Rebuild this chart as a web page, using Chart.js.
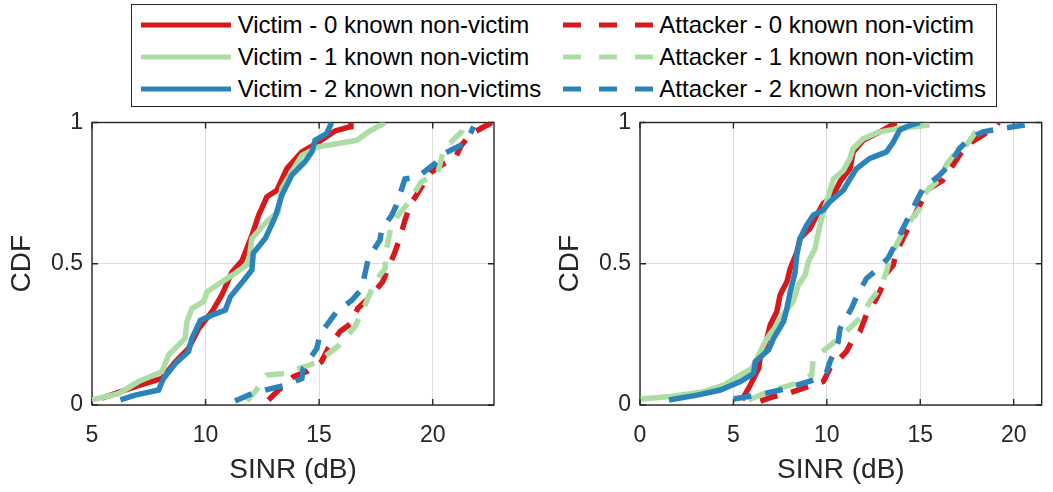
<!DOCTYPE html>
<html>
<head>
<meta charset="utf-8">
<title>SINR CDF</title>
<script src="https://cdn.jsdelivr.net/npm/chart.js"></script>
<style>
  body { margin: 0; width: 1053px; height: 492px; background: #fff; position: relative; overflow: hidden;
         font-family: "Liberation Sans", Arial, sans-serif; }
  canvas { position: absolute; top: 110px; }
  #legend { position: absolute; left: 131px; top: 4px; width: 864px; height: 101px; border: 1.4px solid #262626; }
  .key { position: absolute; font-size: 24px; line-height: 28px; color: #000; white-space: nowrap; }
  .swatch { position: absolute; }
</style>
</head>
<body>
<div id="legend"></div>
<canvas id="left" width="510" height="382" style="left:0px"></canvas>
<canvas id="right" width="505" height="382" style="left:548px"></canvas>
<script>
// series names and colours
const labels = [
  'Victim - 0 known non-victim', 'Victim - 1 known non-victim', 'Victim - 2 known non-victims',
  'Attacker - 0 known non-victim', 'Attacker - 1 known non-victim', 'Attacker - 2 known non-victims'
];
const colors = ['#d7191c', '#abdda4', '#2b83ba', '#d7191c', '#abdda4', '#2b83ba'];
const dashed = [false, false, false, true, true, true];

const yTicks = [0, 0.5, 1];
const leftXTicks = [5, 10, 15, 20];
const rightXTicks = [0, 5, 10, 15, 20];

// left panel: [SINR dB, CDF]
const leftVictim0 = [[5.44,0.024],[6.9,0.065],[8.08,0.094],[8.67,0.153],[9.25,0.2],[9.69,0.27],[10.28,0.33],[10.72,0.39],[11.16,0.47],[11.6,0.51],[12.04,0.6],[12.33,0.67],[12.7,0.737],[13.14,0.76],[13.58,0.837],[14.24,0.896],[14.97,0.93],[15.7,0.97],[16.36,0.985],[16.4,1.0]];
const leftVictim1 = [[5.0,0.018],[6.17,0.04],[7.05,0.083],[8.08,0.118],[8.37,0.177],[9.1,0.236],[9.18,0.295],[9.4,0.342],[9.91,0.366],[10.06,0.4],[10.72,0.436],[11.3,0.466],[11.89,0.5],[12.04,0.59],[12.7,0.65],[13.2,0.684],[13.36,0.767],[13.8,0.825],[14.24,0.884],[14.97,0.914],[16.66,0.937],[17.17,0.967],[17.9,1.0]];
const leftVictim2 = [[6.25,0.018],[6.9,0.035],[7.93,0.053],[8.15,0.094],[8.67,0.147],[9.25,0.189],[9.4,0.236],[9.77,0.3],[10.28,0.318],[10.87,0.336],[11.09,0.383],[11.67,0.44],[12.04,0.478],[12.1,0.537],[12.63,0.59],[13.07,0.666],[13.36,0.743],[13.8,0.814],[14.38,0.861],[14.68,0.896],[14.82,0.937],[15.33,0.961],[15.55,1.0]];
const leftAttacker0 = [[12.77,0.018],[13.14,0.047],[13.87,0.1],[14.46,0.118],[15.1,0.153],[15.4,0.2],[15.92,0.26],[16.43,0.29],[16.7,0.342],[17.24,0.383],[17.8,0.436],[17.97,0.47],[18.33,0.54],[18.55,0.59],[18.78,0.654],[19.0,0.707],[19.51,0.772],[19.95,0.825],[20.4,0.85],[20.98,0.873],[21.27,0.92],[21.7,0.96],[22.6,1.0]];
const leftAttacker1 = [[11.82,0.014],[12.18,0.047],[12.7,0.106],[13.5,0.112],[14.38,0.136],[14.97,0.153],[15.85,0.21],[16.58,0.277],[17.02,0.354],[17.46,0.436],[17.9,0.483],[17.97,0.554],[18.2,0.643],[18.9,0.713],[19.5,0.79],[20.22,0.82],[20.5,0.908],[20.8,0.93],[21.27,0.967],[21.4,1.0]];
const leftAttacker2 = [[11.3,0.014],[12.04,0.04],[12.92,0.059],[13.5,0.07],[14.24,0.094],[14.3,0.13],[14.9,0.2],[15.04,0.25],[15.77,0.33],[16.43,0.37],[16.87,0.41],[17.17,0.52],[17.68,0.584],[17.75,0.62],[18.2,0.672],[18.4,0.707],[18.78,0.8],[19.36,0.808],[20.1,0.855],[20.5,0.89],[21.4,0.926],[21.7,0.967],[21.8,0.985]];

// right panel: [SINR dB, CDF]
const rightVictim0 = [[5.46,0.018],[5.9,0.07],[6.35,0.13],[6.43,0.165],[6.7,0.21],[6.97,0.283],[7.32,0.33],[7.5,0.39],[7.86,0.436],[8.04,0.483],[8.39,0.54],[8.57,0.59],[9.1,0.625],[9.46,0.672],[9.81,0.713],[10.35,0.743],[10.7,0.79],[11.24,0.837],[11.41,0.896],[11.95,0.937],[12.84,0.967],[13.72,1.0]];
const rightVictim1 = [[0.04,0.021],[1.64,0.03],[3.41,0.047],[4.48,0.07],[5.19,0.1],[5.99,0.13],[6.35,0.177],[6.79,0.236],[7.32,0.283],[7.77,0.33],[8.2,0.366],[8.48,0.425],[8.84,0.46],[9.01,0.507],[9.37,0.554],[9.55,0.613],[9.81,0.684],[9.99,0.72],[10.35,0.8],[10.88,0.83],[11.24,0.873],[11.41,0.908],[11.95,0.943],[12.84,0.967],[13.9,0.98],[15.32,0.99],[15.35,1.0]];
const rightVictim2 = [[1.55,0.018],[3.06,0.035],[4.3,0.053],[5.37,0.083],[6.08,0.112],[6.17,0.153],[6.88,0.195],[7.15,0.236],[7.68,0.295],[7.86,0.342],[8.04,0.4],[8.3,0.47],[8.39,0.53],[8.57,0.59],[8.92,0.637],[9.28,0.672],[9.81,0.69],[10.17,0.72],[10.88,0.76],[11.24,0.8],[11.59,0.837],[12.3,0.873],[13.19,0.896],[13.55,0.93],[13.9,0.973],[14.26,0.985],[14.97,1.0]];
const rightAttacker0 = [[6.44,0.014],[7.15,0.03],[7.86,0.04],[8.75,0.06],[9.81,0.083],[10.17,0.13],[10.52,0.153],[11.06,0.19],[11.32,0.224],[11.77,0.26],[12.12,0.32],[12.66,0.377],[13.01,0.425],[13.19,0.466],[13.55,0.495],[13.72,0.54],[14.08,0.59],[14.44,0.637],[14.79,0.684],[15.15,0.731],[15.5,0.767],[16.21,0.796],[16.57,0.831],[17.1,0.884],[17.46,0.92],[18.35,0.955],[19.06,0.99],[19.2,1.0]];
const rightAttacker1 = [[5.81,0.018],[6.61,0.04],[7.5,0.06],[8.39,0.077],[9.19,0.106],[9.28,0.165],[10.17,0.21],[10.88,0.25],[11.77,0.307],[12.3,0.366],[12.84,0.413],[13.19,0.47],[13.37,0.52],[13.72,0.566],[14.08,0.613],[14.44,0.65],[14.97,0.696],[15.32,0.755],[16.04,0.8],[16.39,0.85],[16.92,0.896],[17.46,0.92],[17.8,0.95],[18.17,0.99],[18.26,1.0]];
const rightAttacker2 = [[5.01,0.021],[6.26,0.035],[7.5,0.053],[9.28,0.088],[10.0,0.118],[10.17,0.153],[10.61,0.224],[10.7,0.27],[11.32,0.342],[11.59,0.383],[12.12,0.448],[12.66,0.478],[13.28,0.52],[13.55,0.554],[13.99,0.613],[14.26,0.65],[14.79,0.72],[15.15,0.767],[15.59,0.79],[16.04,0.814],[16.57,0.85],[17.1,0.908],[17.64,0.943],[18.35,0.967],[19.41,0.979],[20.48,0.99],[21.33,1.0]];

const FONT = '"Liberation Sans", Arial, sans-serif';
const INK = '#262626';
const DASH = [18, 14];

// axes box with inward tick marks, drawn under the curves
const frame = {
  id: 'frame',
  beforeDatasetsDraw(chart) {
    const { ctx, chartArea: a, scales: { x, y } } = chart;
    ctx.save();
    ctx.strokeStyle = INK;
    ctx.lineWidth = 1.4;
    ctx.strokeRect(a.left, a.top, a.width, a.height);
    ctx.beginPath();
    x.ticks.forEach(t => {
      const px = x.getPixelForValue(t.value);
      ctx.moveTo(px, a.bottom); ctx.lineTo(px, a.bottom - 6);
      ctx.moveTo(px, a.top); ctx.lineTo(px, a.top + 6);
    });
    y.ticks.forEach(t => {
      const py = y.getPixelForValue(t.value);
      ctx.moveTo(a.left, py); ctx.lineTo(a.left + 6, py);
      ctx.moveTo(a.right, py); ctx.lineTo(a.right - 6, py);
    });
    ctx.stroke();
    ctx.restore();
  }
};

function makeChart(id, xMin, xMax, xTicks, padRight, series) {
  const datasets = series.map((pts, i) => ({
    label: labels[i],
    data: pts.map(p => ({ x: p[0], y: p[1] })),
    showLine: true,
    borderColor: colors[i],
    backgroundColor: colors[i],
    borderWidth: 5.5,
    borderDash: dashed[i] ? DASH : [],
    pointRadius: 0,
    tension: 0,
    clip: 0,
    order: series.length - i
  }));
  return new Chart(document.getElementById(id), {
    type: 'scatter',
    data: { datasets },
    plugins: [frame],
    options: {
      responsive: false,
      animation: false,
      devicePixelRatio: 1,
      layout: { padding: { left: 0, right: padRight, top: 12.5, bottom: 0 } },
      plugins: { legend: { display: false }, tooltip: { enabled: false } },
      scales: {
        x: {
          type: 'linear', min: xMin, max: xMax,
          afterBuildTicks: s => { s.ticks = xTicks.map(v => ({ value: v })); },
          afterFit: s => { s.height = 87; s.paddingLeft = 0; s.paddingRight = 0; },
          grid: { color: '#dedede', lineWidth: 1, drawTicks: false },
          border: { display: false },
          ticks: { color: INK, font: { family: FONT, size: 23 }, padding: 17, maxRotation: 0, autoSkip: false },
          title: { display: true, text: 'SINR (dB)', color: INK, font: { family: FONT, size: 28 }, padding: { top: 0, bottom: 5 } }
        },
        y: {
          type: 'linear', min: 0, max: 1,
          afterBuildTicks: s => { s.ticks = yTicks.map(v => ({ value: v })); },
          afterFit: s => { s.width = 92; s.paddingTop = 0; s.paddingBottom = 0; },
          grid: { color: '#dedede', lineWidth: 1, drawTicks: false },
          border: { display: false },
          ticks: { color: INK, font: { family: FONT, size: 23 }, padding: 9, callback: v => String(v) },
          title: { display: true, text: 'CDF', color: INK, font: { family: FONT, size: 28 }, padding: { top: 5, bottom: 0 } }
        }
      }
    }
  });
}

makeChart('left', 5, 22.7, leftXTicks, 16,
  [leftVictim0, leftVictim1, leftVictim2, leftAttacker0, leftAttacker1, leftAttacker2]);
makeChart('right', 0, 21.5, rightXTicks, 11.3,
  [rightVictim0, rightVictim1, rightVictim2, rightAttacker0, rightAttacker1, rightAttacker2]);

// shared two-column legend
const legend = document.getElementById('legend');
const rowsY = [24, 56, 88];
labels.forEach((text, i) => {
  const col = i < 3 ? 0 : 1;
  const cy = rowsY[i % 3];
  const x0 = col === 0 ? 140 : 561.7;
  const tx = col === 0 ? 236.7 : 658.3;
  const svg = document.createElementNS('http://www.w3.org/2000/svg', 'svg');
  svg.setAttribute('class', 'swatch');
  svg.setAttribute('width', 92);
  svg.setAttribute('height', 10);
  svg.style.left = (x0 - 131) + 'px';
  svg.style.top = (cy - 5 - 4) + 'px';
  const line = document.createElementNS('http://www.w3.org/2000/svg', 'line');
  line.setAttribute('x1', 0); line.setAttribute('x2', 90);
  line.setAttribute('y1', 5); line.setAttribute('y2', 5);
  line.setAttribute('stroke', colors[i]);
  line.setAttribute('stroke-width', 5);
  if (dashed[i]) line.setAttribute('stroke-dasharray', '18 18');
  svg.appendChild(line);
  legend.appendChild(svg);
  const span = document.createElement('div');
  span.className = 'key';
  span.textContent = text;
  span.style.left = (tx - 131) + 'px';
  span.style.top = (cy - 14 - 4) + 'px';
  legend.appendChild(span);
});
</script>
</body>
</html>
